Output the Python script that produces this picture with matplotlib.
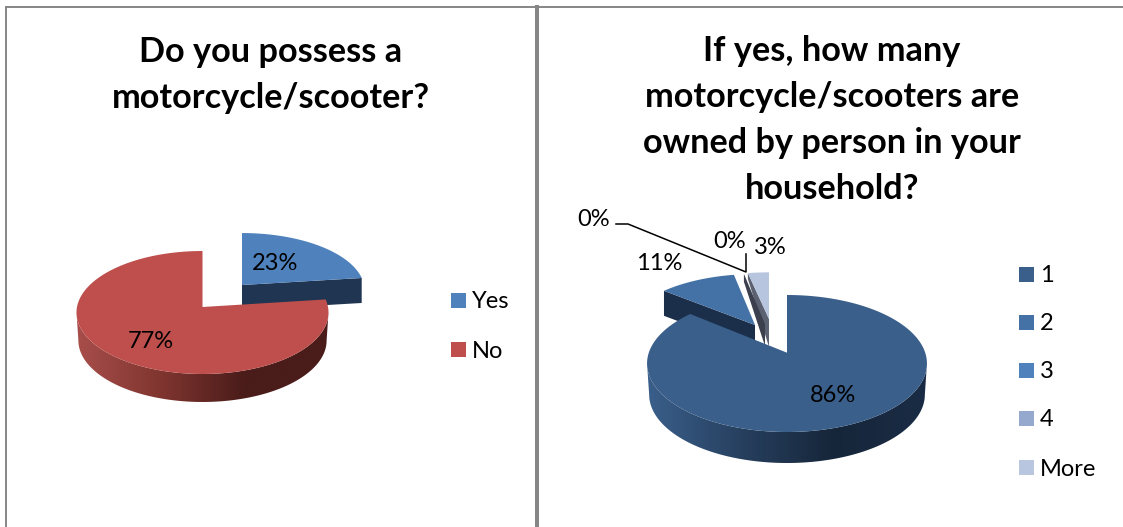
"""Draw the two exploded 3-D pie charts about motorcycle ownership."""

import matplotlib

matplotlib.use("Agg")

import matplotlib.pyplot as plt
import numpy as np
from matplotlib.colors import LinearSegmentedColormap
from matplotlib.patches import Polygon, Rectangle


plt.rcParams["font.family"] = ["Lato", "DejaVu Sans"]

OWN_TITLE = "Do you possess a\nmotorcycle/scooter?"
OWN_LABELS = ["Yes", "No"]
OWN_VALUES = [23, 77]

COUNT_TITLE = "If yes, how many\nmotorcycle/scooters are\nowned by person in your\nhousehold?"
COUNT_LABELS = ["1", "2", "3", "4", "More"]
COUNT_VALUES = [86, 11, 0, 0, 3]

FRAME = "#868686"
LABEL_SIZE = 17
TITLE_SIZE = 24.7


def project(geom, angle):
    """Map angles on the pie's circle to pixels, with the far side foreshortened."""
    cx, cy, rx, ry, tilt = geom
    u, v = np.cos(angle), np.sin(angle)
    w = 1 + tilt * v
    return cx + rx * u / w, cy - ry * v / w


def slice_angles(values):
    """Start and end angle of each slice, clockwise from twelve o'clock."""
    ends = np.pi / 2 - 2 * np.pi * np.cumsum(values) / np.sum(values)
    starts = np.concatenate([[np.pi / 2], ends[:-1]])
    return starts, ends


def draw_top(ax, geom, start, end, color, zorder):
    angles = np.linspace(start, end, 200)
    x, y = project(geom, angles)
    points = np.column_stack([np.r_[geom[0], x], np.r_[geom[1], y]])
    ax.add_patch(Polygon(points, closed=True, facecolor=color, edgecolor="none", zorder=zorder))


def draw_rim(ax, geom, depth, start, end, shades, zorder):
    """Outer wall of a slice, shaded from left to right."""
    limit = np.arcsin(geom[4])
    lo = max(end, -np.pi + limit)
    hi = min(start, -limit)
    if hi <= lo:
        return
    angles = np.linspace(hi, lo, 200)
    x, y = project(geom, angles)
    x_low = geom[0] + (x - geom[0]) * 0.985
    points = np.column_stack([np.r_[x, x_low[::-1]], np.r_[y, y[::-1] + depth]])
    clip = Polygon(points, closed=True, facecolor="none", edgecolor="none", zorder=zorder)
    ax.add_patch(clip)
    cmap = LinearSegmentedColormap.from_list("wall", shades)
    image = ax.imshow(
        np.linspace(0, 1, 256).reshape(1, -1),
        cmap=cmap,
        extent=(points[:, 0].min(), points[:, 0].max(), points[:, 1].max(), points[:, 1].min()),
        aspect="auto",
        zorder=zorder,
    )
    image.set_clip_path(clip)


def draw_cut(ax, geom, depth, angle, color, zorder, rim_depth=None):
    """Flat wall along the radius of a pulled-out slice."""
    if rim_depth is None:
        rim_depth = depth
    x, y = project(geom, np.array([angle]))
    cx, cy = geom[0], geom[1]
    points = [(cx, cy), (x[0], y[0]), (x[0], y[0] + rim_depth), (cx, cy + depth)]
    ax.add_patch(Polygon(points, closed=True, facecolor=color, edgecolor="none", zorder=zorder))


def draw_legend(ax, labels, colors, x, y_tops):
    for label, color, top in zip(labels, colors, y_tops):
        ax.add_patch(Rectangle((x, top), 15, 15, facecolor=color, edgecolor="none"))
        ax.text(x + 21, top + 9, label, ha="left", va="center", fontsize=LABEL_SIZE, color="black")


def main():
    fig = plt.figure(figsize=(11.23, 5.27), dpi=100)
    ax = fig.add_axes([0, 0, 1, 1])

    # panel frame
    ax.plot([5.5, 5.5], [527, 6.5], color=FRAME, linewidth=1.4)
    ax.plot([5.5, 1123], [6.5, 6.5], color=FRAME, linewidth=1.4)
    ax.plot([537, 537], [527, 6.5], color=FRAME, linewidth=2.9)

    title_style = dict(ha="center", va="center", fontsize=TITLE_SIZE, fontweight="bold", linespacing=1.54)
    ax.text(271, 75, OWN_TITLE, **title_style)
    ax.text(832, 120, COUNT_TITLE, **title_style)

    # left pie
    starts, ends = slice_angles(OWN_VALUES)
    yes_geom = (242, 285, 122, 56.6, 0.0894)
    no_geom = (202.5, 307, 125.5, 61, 0.0894)
    draw_cut(ax, yes_geom, 25, ends[0], "#1F3552", 2)
    draw_top(ax, yes_geom, starts[0], ends[0], "#4F81BD", 3)
    draw_rim(ax, no_geom, 28, starts[1], ends[1], ["#A84E4B", "#80352F", "#4A1C1A", "#4A1C1A"], 4)
    draw_top(ax, no_geom, starts[1], ends[1], "#BE4F4C", 5)

    ax.text(275, 264, f"{OWN_VALUES[0]}%", ha="center", va="center", fontsize=LABEL_SIZE, zorder=9)
    ax.text(151, 342, f"{OWN_VALUES[1]}%", ha="center", va="center", fontsize=LABEL_SIZE, zorder=9)
    draw_legend(ax, OWN_LABELS, ["#4F81BD", "#BE4F4C"], 451, [293, 342])

    # right pie
    starts, ends = slice_angles(COUNT_VALUES)
    main_geom = (787, 352.7, 138.2, 66.8, 0.1577)
    two_geom = (755, 325, 130, 59, 0.1577)
    zero_geom = (765, 324, 130, 59, 0.1577)
    more_geom = (769, 319, 130, 54, 0.1577)
    draw_cut(ax, two_geom, 25, starts[1], "#1C2F4A", 2)
    draw_top(ax, two_geom, starts[1], ends[1], "#4471A6", 3)
    draw_cut(ax, more_geom, 28, starts[4], "#5C6272", 2, rim_depth=6)
    draw_cut(ax, zero_geom, 22, starts[4], "#3C404E", 2, rim_depth=8)
    draw_top(ax, more_geom, starts[4], ends[4], "#B7C5DE", 3)
    draw_rim(ax, main_geom, 31, starts[0], ends[0], ["#3A5F8B", "#27405F", "#16263A", "#1A2C45"], 4)
    draw_top(ax, main_geom, starts[0], ends[0], "#3A5F8B", 5)

    ax.plot([616, 628, 746, 746], [224, 224, 272, 254], color="black", linewidth=1.1, zorder=8)
    ax.text(594, 220, f"{COUNT_VALUES[2]}%", ha="center", va="center", fontsize=LABEL_SIZE)
    ax.text(730, 242, f"{COUNT_VALUES[3]}%", ha="center", va="center", fontsize=LABEL_SIZE)
    ax.text(770, 248, f"{COUNT_VALUES[4]}%", ha="center", va="center", fontsize=LABEL_SIZE)
    ax.text(659, 264, f"{COUNT_VALUES[1]}%", ha="center", va="center", fontsize=LABEL_SIZE)
    ax.text(833, 396, f"{COUNT_VALUES[0]}%", ha="center", va="center", fontsize=LABEL_SIZE, zorder=9)
    draw_legend(
        ax,
        COUNT_LABELS,
        ["#3A5F8B", "#4471A6", "#4F81BD", "#95A9CF", "#B9C6DF"],
        1019,
        [267, 315, 363, 411, 460],
    )

    ax.set_xlim(0, 1123)
    ax.set_ylim(527, 0)
    ax.axis("off")

    fig.savefig("out.png", dpi=100, facecolor="white")
    plt.close(fig)


if __name__ == "__main__":
    main()
